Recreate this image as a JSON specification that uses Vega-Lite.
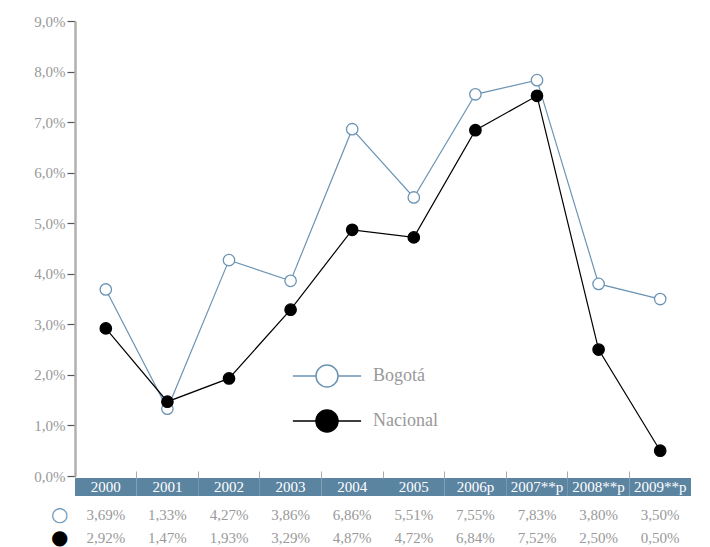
{
  "$schema": "https://vega.github.io/schema/vega-lite/v6.json",
  "padding": {"left": 33, "top": 14, "right": 18, "bottom": 2},
  "background": "white",
  "config": {
    "view": {"stroke": null},
    "font": "Liberation Serif, serif"
  },
  "datasets": {
    "rates": [
      {"year": "2000", "series": "Bogotá", "value": 3.69},
      {"year": "2001", "series": "Bogotá", "value": 1.33},
      {"year": "2002", "series": "Bogotá", "value": 4.27},
      {"year": "2003", "series": "Bogotá", "value": 3.86},
      {"year": "2004", "series": "Bogotá", "value": 6.86},
      {"year": "2005", "series": "Bogotá", "value": 5.51},
      {"year": "2006p", "series": "Bogotá", "value": 7.55},
      {"year": "2007**p", "series": "Bogotá", "value": 7.83},
      {"year": "2008**p", "series": "Bogotá", "value": 3.80},
      {"year": "2009**p", "series": "Bogotá", "value": 3.50},
      {"year": "2000", "series": "Nacional", "value": 2.92},
      {"year": "2001", "series": "Nacional", "value": 1.47},
      {"year": "2002", "series": "Nacional", "value": 1.93},
      {"year": "2003", "series": "Nacional", "value": 3.29},
      {"year": "2004", "series": "Nacional", "value": 4.87},
      {"year": "2005", "series": "Nacional", "value": 4.72},
      {"year": "2006p", "series": "Nacional", "value": 6.84},
      {"year": "2007**p", "series": "Nacional", "value": 7.52},
      {"year": "2008**p", "series": "Nacional", "value": 2.50},
      {"year": "2009**p", "series": "Nacional", "value": 0.50}
    ]
  },
  "vconcat": [
    {
      "width": 616,
      "height": 455,
      "data": {"name": "rates"},
      "encoding": {
        "x": {
          "field": "year", "type": "ordinal",
          "scale": {"type": "band", "domain": ["2000", "2001", "2002", "2003", "2004", "2005", "2006p", "2007**p", "2008**p", "2009**p"], "paddingInner": 0, "paddingOuter": 0},
          "axis": null
        },
        "y": {
          "field": "value", "type": "quantitative",
          "scale": {"domain": [0, 9], "nice": false},
          "axis": {
            "values": [0, 1, 2, 3, 4, 5, 6, 7, 8, 9],
            "labelExpr": "replace(format(datum.value, '.1f'), '.', ',') + '%'",
            "title": null, "grid": false,
            "domainColor": "#b0b0b0", "domainWidth": 2.5,
            "tickColor": "#555555", "tickSize": 8, "tickWidth": 1.2,
            "labelColor": "#999999", "labelFontSize": 15, "labelFont": "Liberation Serif, serif", "labelPadding": 2
          }
        },
        "stroke": {
          "field": "series", "type": "nominal",
          "scale": {"domain": ["Bogotá", "Nacional"], "range": ["#6b94b4", "#000000"]},
          "legend": {
            "orient": "none", "legendX": 240, "legendY": 343, "title": null, "padding": 0,
            "symbolType": "M-3.1,0H-1M1,0H3.1M-1,0A1,1,0,1,1,1,0A1,1,0,1,1,-1,0Z",
            "symbolSize": 484, "symbolStrokeWidth": 1.5,
            "labelOffset": 34, "rowPadding": 17,
            "labelFontSize": 18, "labelColor": "#999999", "labelFont": "Liberation Serif, serif"
          }
        }
      },
      "layer": [
        {"mark": {"type": "line", "strokeWidth": 1.2}},
        {
          "mark": {"type": "point", "filled": true, "size": 130, "strokeWidth": 1.3, "opacity": 1},
          "encoding": {
            "fill": {
              "field": "series", "type": "nominal",
              "scale": {"domain": ["Bogotá", "Nacional"], "range": ["#ffffff", "#000000"]},
              "legend": {
                "orient": "none", "legendX": 240, "legendY": 343, "title": null, "padding": 0,
                "symbolType": "M-3.1,0H-1M1,0H3.1M-1,0A1,1,0,1,1,1,0A1,1,0,1,1,-1,0Z",
                "symbolSize": 484, "symbolStrokeWidth": 1.5,
                "labelOffset": 34, "rowPadding": 17,
                "labelFontSize": 18, "labelColor": "#999999", "labelFont": "Liberation Serif, serif"
              }
            }
          }
        }
      ]
    },
    {
      "width": 616,
      "height": 18,
      "data": {"name": "rates"},
      "transform": [{"filter": "datum.series === 'Bogotá'"}],
      "encoding": {
        "x": {
          "field": "year", "type": "ordinal",
          "scale": {"type": "band", "domain": ["2000", "2001", "2002", "2003", "2004", "2005", "2006p", "2007**p", "2008**p", "2009**p"], "paddingInner": 0, "paddingOuter": 0},
          "axis": {
            "orient": "top", "labels": false, "domain": false, "title": null,
            "ticks": true, "tickSize": 7, "tickColor": "#aaaaaa", "tickWidth": 1,
            "bandPosition": 0, "tickExtra": true
          }
        }
      },
      "layer": [
        {"mark": {"type": "rect", "fill": "#5b84a1"}},
        {
          "mark": {"type": "text", "color": "#ffffff", "fontSize": 15, "font": "Liberation Serif, serif"},
          "encoding": {"text": {"field": "year"}}
        }
      ]
    },
    {
      "width": 616,
      "height": 46,
      "data": {"name": "rates"},
      "transform": [
        {"calculate": "replace(format(datum.value, '.2f'), '.', ',') + '%'", "as": "label"}
      ],
      "mark": {"type": "text", "fontSize": 15, "color": "#999999", "font": "Liberation Serif, serif"},
      "encoding": {
        "x": {
          "field": "year", "type": "ordinal",
          "scale": {"type": "band", "domain": ["2000", "2001", "2002", "2003", "2004", "2005", "2006p", "2007**p", "2008**p", "2009**p"], "paddingInner": 0, "paddingOuter": 0},
          "axis": null
        },
        "y": {
          "field": "series", "type": "nominal", "bandPosition": 0.76,
          "scale": {"type": "band", "domain": ["Bogotá", "Nacional"], "paddingInner": 0, "paddingOuter": 0},
          "axis": {
            "title": null, "domain": false, "ticks": false, "labelOffset": 5,
            "labelExpr": "datum.value === 'Bogotá' ? '○' : '●'",
            "labelFont": "DejaVu Sans", "labelFontSize": 20, "labelPadding": 7,
            "labelColor": {"condition": {"test": "datum.value === 'Bogotá'", "value": "#6b94b4"}, "value": "#000000"}
          }
        },
        "text": {"field": "label"}
      }
    }
  ],
  "spacing": 2,
  "bounds": "flush"
}
